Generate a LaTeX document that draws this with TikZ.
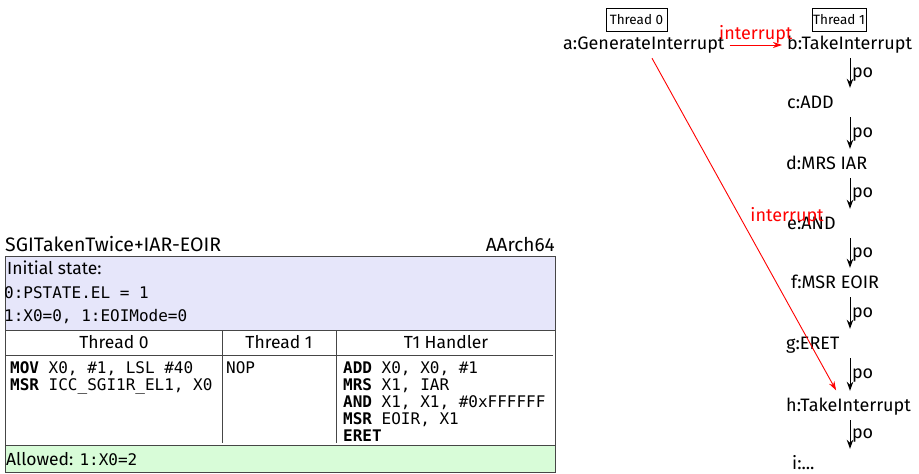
\documentclass[tikz,border=0pt]{standalone}
\usepackage{fontspec}
\setmainfont{Fira Sans}
\setmonofont{DejaVu Sans Mono}
\usetikzlibrary{arrows.meta}
\definecolor{initblue}{RGB}{230,230,250}
\definecolor{allowgreen}{RGB}{216,252,216}
\definecolor{rulegray}{RGB}{70,70,70}
\begin{document}
\begin{tikzpicture}[x=1pt,y=-1pt,
  gfont/.style={font=\fontsize{18}{21}\selectfont},
  ev/.style={gfont, inner sep=0pt, minimum height=26pt, text height=12pt, text depth=4pt, anchor=west},
  poarrow/.style={-{Stealth[length=9pt,width=6.5pt]}, line width=1pt, shorten >=3pt},
  polabel/.style={gfont, midway, anchor=west, inner sep=1.5pt},
  intr/.style={red, -{Stealth[length=9pt,width=6pt]}, line width=0.9pt},
  intrlabel/.style={gfont, red, inner sep=0pt},
  thr/.style={draw, line width=0.6pt, inner sep=0pt, minimum width=61pt, minimum height=23pt,
              font=\fontsize{13.5}{15}\selectfont},
  tsans/.style={inner sep=0pt, font=\fontsize{17.5}{20}\selectfont},
  tmono/.style={inner sep=0pt, anchor=base west, font=\ttfamily\fontsize{16}{17}\selectfont},
  rulel/.style={draw=rulegray, line width=0.8pt}
]
\useasboundingbox (0,0) rectangle (919,474);

% ---------------- graph ----------------
\node[thr] (t0) at (636.5,19.5) {Thread 0};
\node[thr, minimum width=54pt] (t1) at (839,19.5) {Thread 1};

\node[ev] (a) at (563,45) {a:GenerateInterrupt};
\node[ev] (b) at (787,45) {b:TakeInterrupt};
\node[ev] (c) at (787,104) {c:ADD};
\node[ev] (d) at (786,165) {d:MRS IAR};
\node[ev] (e) at (787,225) {e:AND};
\node[ev] (f) at (791,284) {f:MSR EOIR};
\node[ev] (g) at (786,345) {g:ERET};
\node[ev] (h) at (786,407) {h:TakeInterrupt};
\node[ev] (i) at (792,465) {i:...};

\coordinate (col) at (850,0);
\coordinate (hcol) at (838,0);
\coordinate (acol) at (652,0);

\draw[poarrow] (b.south -| col) -- (c.north -| col) node[polabel] {po};
\draw[poarrow] (c.south -| col) -- (d.north -| col) node[polabel] {po};
\draw[poarrow] (d.south -| col) -- (e.north -| col) node[polabel] {po};
\draw[poarrow] (e.south -| col) -- (f.north -| col) node[polabel] {po};
\draw[poarrow] (f.south -| col) -- (g.north -| col) node[polabel] {po};
\draw[poarrow] (g.south -| col) -- (h.north -| col) node[polabel] {po};
\draw[poarrow] (h.south -| col) -- (i.north -| col) node[polabel] {po};

\draw[intr, shorten <=5pt, shorten >=5pt] (a.east) -- (b.west)
  node[intrlabel, midway, anchor=base, yshift=6pt] {interrupt};
\draw[intr, shorten >=4pt] (a.south -| acol) -- (h.north -| hcol)
  node[intrlabel, midway, anchor=base west, xshift=5pt, yshift=5pt] {interrupt};

% ---------------- table ----------------
\node[tsans, anchor=base west, font=\fontsize{19.5}{22}\selectfont] (title) at (5,251) {SGITakenTwice+IAR-EOIR};
\node[tsans, anchor=base east, font=\fontsize{19}{22}\selectfont] (arch) at (555,251) {AArch64};

\fill[initblue] (5,256) rectangle (555,330);
\fill[allowgreen] (5,445) rectangle (555,472);
\draw[rulel] (5,256) rectangle (555,472);
\draw[rulel] (5,330) -- (555,330);
\draw[rulel] (5,355) -- (553,355);
\draw[rulel] (5,445) -- (555,445);
\draw[rulel] (222,330) -- (222,443);
\draw[rulel] (336,330) -- (336,443);

\node[tsans, anchor=base west] (init) at (7,274) {Initial state:};
\node[tmono] (init1) at (4,298) {0:PSTATE.EL = 1};
\node[tmono] (init2) at (4,321) {1:X0=0, 1:EOIMode=0};

\node[tsans, anchor=base] (h0) at (114,348) {Thread 0};
\node[tsans, anchor=base] (h1) at (279,348) {Thread 1};
\node[tsans, anchor=base] (h2) at (446,348) {T1 Handler};

\node[tmono] (p0a) at (10,373) {\textbf{MOV} X0, \#1, LSL \#40};
\node[tmono] (p0b) at (10,390) {\textbf{MSR} ICC\_SGI1R\_EL1, X0};
\node[tmono] (p1a) at (226,373) {NOP};
\node[tmono] (ha) at (343,373) {\textbf{ADD} X0, X0, \#1};
\node[tmono] (hb) at (343,390) {\textbf{MRS} X1, IAR};
\node[tmono] (hc) at (343,407) {\textbf{AND} X1, X1, \#0xFFFFFF};
\node[tmono] (hd) at (343,424) {\textbf{MSR} EOIR, X1};
\node[tmono] (he) at (343,441) {\textbf{ERET}};

\node[tsans, anchor=base west] (allowed) at (6,465) {Allowed: {\ttfamily\fontsize{16}{18}\selectfont 1:X0=2}};
\end{tikzpicture}
\end{document}
